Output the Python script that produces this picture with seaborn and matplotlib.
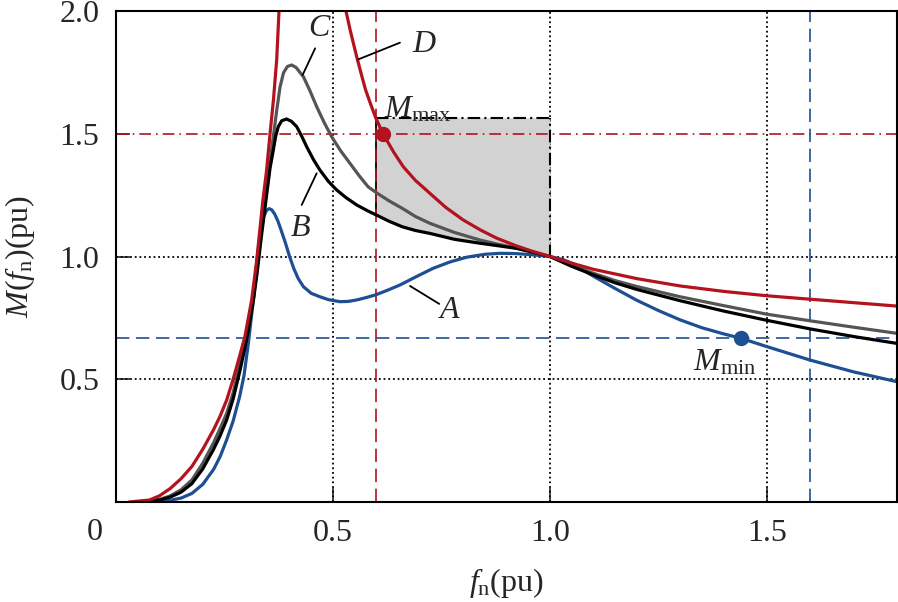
import numpy as np
import pandas as pd
import matplotlib
matplotlib.use("Agg")
import matplotlib.pyplot as plt
import seaborn as sns

# ---------------- data ----------------
a_x = [0.05, 0.10, 0.125, 0.15, 0.175, 0.20, 0.225, 0.24, 0.255, 0.27,
       0.285, 0.295, 0.305, 0.3165, 0.324, 0.332, 0.34, 0.347, 0.353, 0.359,
       0.366, 0.373, 0.38, 0.39, 0.40, 0.41, 0.42, 0.432, 0.45, 0.47,
       0.49, 0.516, 0.535, 0.5547, 0.575, 0.5973, 0.625, 0.6545, 0.69, 0.731,
       0.77, 0.808, 0.85, 0.885, 0.92, 0.96, 1.0, 1.03, 1.054, 1.10,
       1.15, 1.20, 1.25, 1.30, 1.35, 1.40, 1.44, 1.50, 1.60, 1.70, 1.80]
a_y = [0.0, 0.002, 0.007, 0.016, 0.035, 0.072, 0.133, 0.185, 0.253, 0.33,
       0.43, 0.515, 0.646, 0.823, 0.97, 1.09, 1.16, 1.188, 1.195, 1.19,
       1.172, 1.145, 1.11, 1.058, 1.0, 0.95, 0.91, 0.877, 0.85, 0.836,
       0.824, 0.816, 0.817, 0.823, 0.832, 0.843, 0.862, 0.884, 0.916, 0.952,
       0.978, 0.997, 1.009, 1.013, 1.012, 1.007, 1.0, 0.988, 0.97, 0.92,
       0.87, 0.822, 0.78, 0.742, 0.71, 0.685, 0.667, 0.633, 0.578, 0.53, 0.49]

b_x = [0.05, 0.10, 0.125, 0.15, 0.175, 0.20, 0.225, 0.24, 0.255, 0.27,
       0.285, 0.295, 0.305, 0.3165, 0.325, 0.335, 0.345, 0.355, 0.3626, 0.368,
       0.374, 0.382, 0.393, 0.404, 0.4164, 0.428, 0.4395, 0.455, 0.470, 0.49,
       0.5086, 0.53, 0.5547, 0.58, 0.60, 0.63, 0.66, 0.69, 0.7237, 0.78,
       0.839, 0.88, 0.9235, 0.96, 1.0, 1.05, 1.10, 1.15, 1.20, 1.30,
       1.40, 1.50, 1.60, 1.70, 1.80]
b_y = [0.0, 0.008, 0.02, 0.04, 0.075, 0.135, 0.215, 0.27, 0.334, 0.42,
       0.53, 0.61, 0.70, 0.82, 0.93, 1.08, 1.22, 1.36, 1.434, 1.49,
       1.529, 1.553, 1.560, 1.551, 1.529, 1.49, 1.447, 1.395, 1.352, 1.305,
       1.271, 1.24, 1.210, 1.186, 1.169, 1.143, 1.121, 1.106, 1.094, 1.07,
       1.054, 1.044, 1.033, 1.018, 1.0, 0.96, 0.925, 0.893, 0.866, 0.82,
       0.778, 0.74, 0.705, 0.674, 0.646]

c_x = [0.05, 0.10, 0.125, 0.15, 0.175, 0.20, 0.225, 0.24, 0.255, 0.27,
       0.285, 0.295, 0.305, 0.3165, 0.325, 0.335, 0.345, 0.355, 0.3626, 0.370,
       0.378, 0.386, 0.395, 0.405, 0.415, 0.432, 0.447, 0.4626, 0.48, 0.497,
       0.518, 0.539, 0.56, 0.581, 0.60, 0.63, 0.66, 0.69, 0.7237, 0.78,
       0.839, 0.88, 0.92, 0.96, 1.0, 1.05, 1.10, 1.15, 1.20, 1.30,
       1.40, 1.50, 1.60, 1.70, 1.80]
c_y = [0.0, 0.01, 0.025, 0.05, 0.09, 0.158, 0.242, 0.30, 0.361, 0.445,
       0.56, 0.635, 0.72, 0.822, 0.95, 1.1, 1.24, 1.39, 1.488, 1.59,
       1.69, 1.748, 1.774, 1.780, 1.770, 1.732, 1.675, 1.610, 1.545, 1.488,
       1.43, 1.380, 1.33, 1.284, 1.260, 1.226, 1.196, 1.163, 1.135, 1.098,
       1.067, 1.05, 1.035, 1.018, 1.0, 0.965, 0.932, 0.902, 0.878, 0.836,
       0.8, 0.765, 0.738, 0.712, 0.687]

d_left_x = [0.03, 0.077, 0.10, 0.125, 0.15, 0.175, 0.20, 0.225, 0.24, 0.255,
            0.27, 0.285, 0.297, 0.3127, 0.324, 0.338, 0.347, 0.355, 0.363, 0.3703,
            0.3757, 0.38]
d_left_y = [0.0, 0.008, 0.025, 0.055, 0.095, 0.145, 0.215, 0.295, 0.35, 0.415,
            0.50, 0.595, 0.673, 0.823, 0.98, 1.22, 1.35, 1.5, 1.64, 1.80,
            2.0, 2.1]
d_right_x = [0.522, 0.530, 0.54, 0.5547, 0.565, 0.575, 0.587, 0.599, 0.616, 0.64,
             0.662, 0.69, 0.7237, 0.76, 0.800, 0.84, 0.877, 0.92, 0.96, 1.0,
             1.05, 1.10, 1.20, 1.30, 1.40, 1.50, 1.60, 1.70, 1.80]
d_right_y = [2.05, 2.0, 1.92, 1.814, 1.745, 1.68, 1.62, 1.563, 1.498, 1.425,
             1.366, 1.31, 1.257, 1.2, 1.149, 1.108, 1.075, 1.045, 1.021, 1.0,
             0.973, 0.948, 0.91, 0.88, 0.858, 0.84, 0.826, 0.812, 0.798]

m_max = (0.616, 1.5)
m_min = (1.44, 0.667)
box_x = (0.6, 1.0)
box_top = 1.565
x_ticks = [0.5, 1.0, 1.5]
x_ticklabels = ["0.5", "1.0", "1.5"]
y_ticks = [0.5, 1.0, 1.5, 2.0]
y_ticklabels = ["0.5", "1.0", "1.5", "2.0"]

RED = "#b3121f"
BLUE = "#1d4f92"
GRAY = "#555555"

# ---------------- style ----------------
sns.set_style("ticks")
plt.rcParams["font.family"] = ["Liberation Serif", "DejaVu Serif"]
plt.rcParams["mathtext.fontset"] = "custom"
plt.rcParams["mathtext.rm"] = "Liberation Serif"
plt.rcParams["mathtext.it"] = "Liberation Serif:italic"
plt.rcParams["font.size"] = 23

fig = plt.figure(figsize=(8.98, 6.02), dpi=100)
ax = fig.add_axes([116 / 898, 1 - 502 / 602, (897 - 116) / 898, (502 - 11) / 602])

ax.set_xlim(0, 1.8)
ax.set_ylim(0, 2.0)

# grid
dot = (0, (1, 1.6))
for xv in x_ticks:
    ax.axvline(xv, color="black", lw=1.3, ls=dot, zorder=1)
for yv in [0.5, 1.0]:
    ax.axhline(yv, color="black", lw=1.3, ls=dot, zorder=1)

# shaded region
bx = np.array(b_x); by = np.array(b_y)
mask = (bx >= box_x[0] - 1e-9) & (bx <= box_x[1] + 1e-9)
ax.fill_between(bx[mask], by[mask], box_top, color="#d2d2d2", lw=0, zorder=2)
ax.plot([box_x[0], box_x[1]], [box_top, box_top], color="black", lw=1.5,
        ls=(0, (6, 2, 1, 2)), zorder=3)
ax.plot([box_x[1], box_x[1]], [1.0, box_top], color="black", lw=1.5,
        ls=(0, (6, 2, 1, 2)), zorder=3)
ax.plot([box_x[0], box_x[0]], [by[mask][0], box_top], color="black", lw=1.3, zorder=3)

# reference lines
ax.axhline(1.5, color=RED, lw=1.2, ls=(0, (7, 3, 1, 3)), zorder=4)
ax.axvline(0.6, color=RED, lw=1.2, ls=(0, (8, 4)), zorder=4)
ax.axhline(m_min[1], color=BLUE, lw=1.2, ls=(0, (8, 4)), zorder=4)
ax.axvline(1.6, color=BLUE, lw=1.2, ls=(0, (8, 4)), zorder=4)

# curves
def draw(xs, ys, color):
    df = pd.DataFrame({"x": xs, "y": ys})
    sns.lineplot(data=df, x="x", y="y", ax=ax, color=color, lw=2.3,
                 sort=False, estimator=None, zorder=5)

draw(a_x, a_y, BLUE)
draw(c_x, c_y, GRAY)
draw(b_x, b_y, "black")
draw(d_left_x, d_left_y, RED)
draw(d_right_x, d_right_y, RED)
for ln in ax.lines:
    ln.set_solid_joinstyle("round")

ax.plot(*m_max, "o", color=RED, ms=10, zorder=6)
ax.plot(*m_min, "o", color=BLUE, ms=10, zorder=6)

# annotations
fs = 23
ax.text(0.470, 1.93, "$C$", fontsize=fs, ha="center", va="center", zorder=7)
ax.plot([0.459, 0.430], [1.848, 1.739], color="black", lw=1.3, zorder=7)
ax.text(0.424, 1.115, "$B$", fontsize=fs, ha="center", va="center", zorder=7)
ax.plot([0.428, 0.4625], [1.21, 1.339], color="black", lw=1.3, zorder=7)
ax.text(0.712, 1.862, "$D$", fontsize=fs, ha="center", va="center", zorder=7)
ax.plot([0.5585, 0.6545], [1.803, 1.871], color="black", lw=1.3, zorder=7)
ax.text(0.770, 0.782, "$A$", fontsize=fs, ha="center", va="center", zorder=7)
ax.plot([0.6776, 0.745], [0.880, 0.807], color="black", lw=1.3, zorder=7)
ax.text(0.618, 1.565, r"$M_{\mathrm{max}}$", fontsize=fs, ha="left", va="baseline", zorder=7)
ax.text(1.33, 0.535, r"$M_{\mathrm{min}}$", fontsize=fs, ha="left", va="baseline", zorder=7)

# ticks & labels
ax.set_xticks(x_ticks)
ax.set_xticklabels(x_ticklabels)
ax.set_yticks(y_ticks)
ax.set_yticklabels(y_ticklabels)
ax.tick_params(direction="in", length=10, width=1.2, labelsize=fs, pad=12,
               top=False, right=False)
ax.text(-0.048, -0.126, "0", fontsize=fs, ha="center", va="center", clip_on=False)
ax.set_xlabel(r"$f_{\mathrm{n}}$(pu)", fontsize=fs, labelpad=13)
ax.set_ylabel(r"$M$($f_{\mathrm{n}}$)(pu)", fontsize=fs, labelpad=16)
for s in ax.spines.values():
    s.set_linewidth(1.5)
    s.set_color("black")
    s.set_visible(True)
    s.set_zorder(8)

fig.savefig("out.png", dpi=100)
